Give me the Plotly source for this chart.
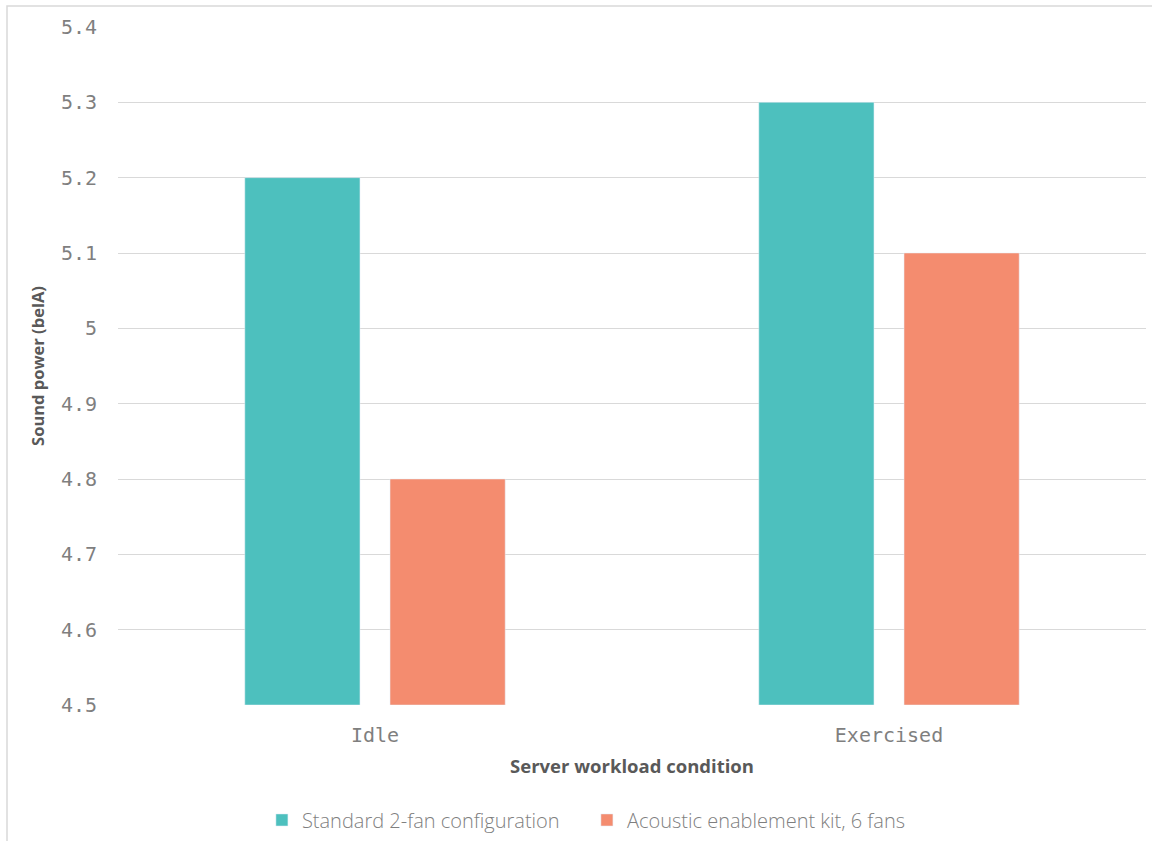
import plotly.graph_objects as go

categories = ["Idle", "Exercised"]
standard_2fan = [5.2, 5.3]
acoustic_kit = [4.8, 5.1]
series_names = ["Standard 2-fan configuration", "Acoustic enablement kit, 6 fans"]
y_ticks = [4.5, 4.6, 4.7, 4.8, 4.9, 5.0, 5.1, 5.2, 5.3, 5.4]
y_tick_text = ["4.5", "4.6", "4.7", "4.8", "4.9", "5", "5.1", "5.2", "5.3", "5.4"]
y_floor = 4.5

W, H = 1152, 841
ml, mr, mt, mb = 118, 6, 27, 136

fig = go.Figure()
fig.add_trace(go.Bar(x=categories, y=[v - y_floor for v in standard_2fan], base=y_floor,
                     name=series_names[0], marker_color="#4DC0BE",
                     hovertext=standard_2fan))
fig.add_trace(go.Bar(x=categories, y=[v - y_floor for v in acoustic_kit], base=y_floor,
                     name=series_names[1], marker_color="#F48C6F",
                     hovertext=acoustic_kit))

# light frame around the chart, open past the right and bottom edges
pw = W - ml - mr
ph = H - mt - mb
fig.add_shape(type="rect", xref="paper", yref="paper",
              x0=(7 - ml) / pw, x1=1.1,
              y0=-0.4, y1=(mt - 6) / ph + 1,
              line=dict(color="#D9D9D9", width=1.5), layer="below")

fig.update_layout(
    width=W, height=H,
    margin=dict(l=ml, r=mr, t=mt, b=mb, autoexpand=False),
    paper_bgcolor="white", plot_bgcolor="white",
    barmode="group", bargap=0.435, bargroupgap=0.207,
    xaxis=dict(
        tickfont=dict(family="DejaVu Sans Mono", size=20, color="#7F7F7F"),
        title=dict(text="Server workload condition",
                   font=dict(family="Open Sans", size=18.5, color="#595959", weight="bold"),
                   standoff=14),
        showgrid=False, ticks="", showline=False, ticklabelstandoff=16,
        automargin=False,
    ),
    yaxis=dict(
        range=[4.5, 5.4], tickvals=y_ticks, ticktext=y_tick_text,
        tickfont=dict(family="DejaVu Sans Mono", size=20, color="#7F7F7F"),
        title=dict(text="Sound power (belA)",
                   font=dict(family="Open Sans", size=16.5, color="#595959", weight="bold"),
                   standoff=12),
        gridcolor="#D9D9D9", gridwidth=1, zeroline=False, showline=False,
        ticks="", ticklabelstandoff=20, automargin=False,
    ),
    legend=dict(orientation="h", x=0.14, xanchor="left",
                yref="container", y=0.025, yanchor="middle",
                font=dict(family="Open Sans", size=20, color="#7F7F7F", weight=300),
                itemwidth=30, entrywidth=280, entrywidthmode="pixels",
                traceorder="normal"),
    font=dict(family="Open Sans"),
)

fig.write_html("out.html")
